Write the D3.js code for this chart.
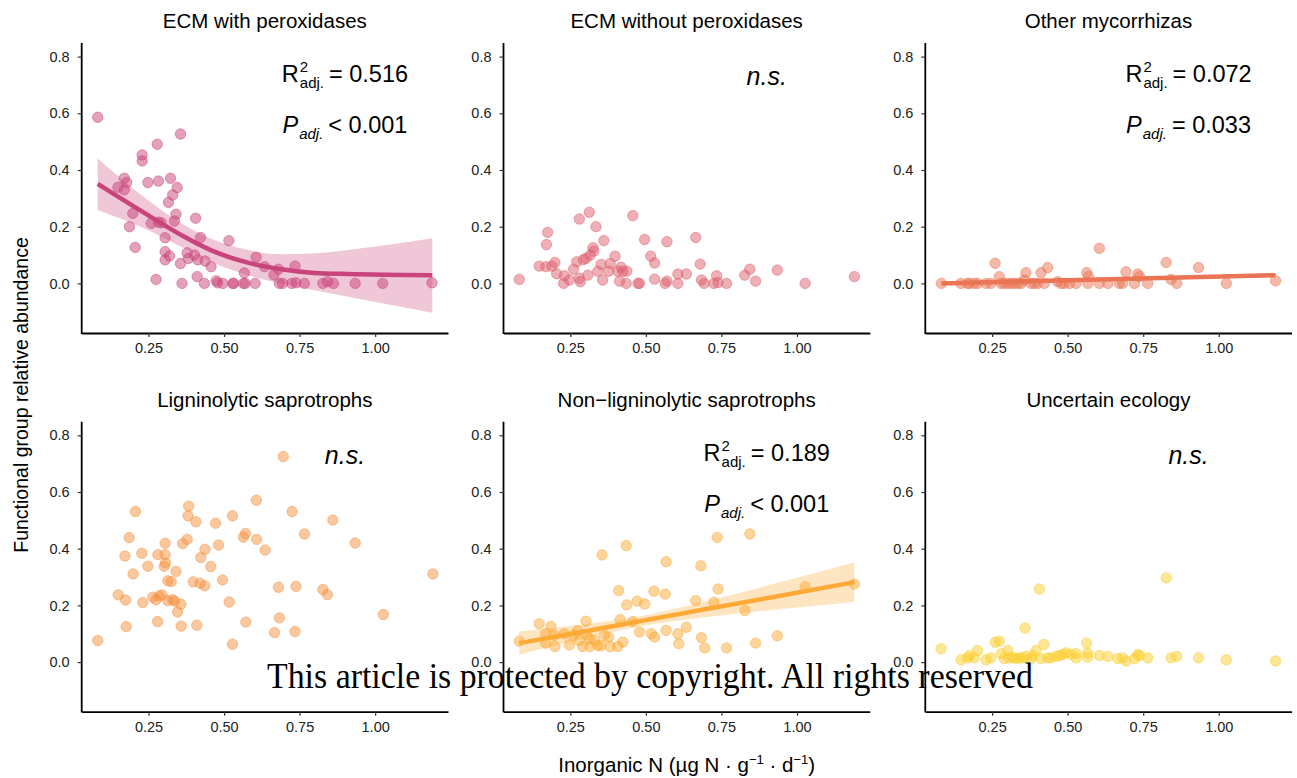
<!DOCTYPE html>
<html>
<head>
<meta charset="utf-8">
<script src="https://cdn.jsdelivr.net/npm/d3@7"></script>
<style>
  body { margin: 0; background: #fff; }
  text { font-family: "Liberation Sans", Arial, sans-serif; }
</style>
</head>
<body>
<script>
// panel names and colours
var groupNames = ["ECM with peroxidases", "ECM without peroxidases", "Other mycorrhizas",
                  "Ligninolytic saprotrophs", "Non\u2212ligninolytic saprotrophs", "Uncertain ecology"];
var groupColors = ["#c9447a", "#dd5f6e", "#ea7454", "#f5923f", "#fcaa35", "#fbcd2c"];

var xTicks = [0.25, 0.50, 0.75, 1.00];
var yTicks = [0.0, 0.2, 0.4, 0.6, 0.8];

// [inorganic N, relative abundance]
var ecmPerox = [[0.082,0.586],[0.149,0.339],[0.170,0.371],[0.178,0.356],[0.170,0.330],[0.198,0.247],[0.187,0.200],[0.206,0.127],[0.229,0.453],[0.229,0.432],[0.248,0.356],[0.259,0.212],[0.275,0.014],[0.279,0.491],[0.283,0.361],[0.292,0.214],[0.283,0.216],[0.305,0.161],[0.305,0.112],[0.305,0.083],[0.319,0.097],[0.316,0.286],[0.323,0.371],[0.330,0.312],[0.336,0.220],[0.341,0.244],[0.345,0.338],[0.356,0.527],[0.356,0.070],[0.361,0.0],[0.378,0.108],[0.382,0.088],[0.402,0.100],[0.406,0.230],[0.411,0.024],[0.413,0.083],[0.422,0.162],[0.435,0.0],[0.437,0.079],[0.457,0.059],[0.474,0.009],[0.479,0.002],[0.496,0.0],[0.516,0.151],[0.529,0.0],[0.532,0.0],[0.564,0.0],[0.567,0.037],[0.570,0.0],[0.603,0.0],[0.606,0.092],[0.634,0.059],[0.665,0.030],[0.680,0.050],[0.683,0.0],[0.694,0.0],[0.724,0.0],[0.735,0.061],[0.738,0.002],[0.766,0.0],[0.827,0.0],[0.843,0.006],[0.862,0.0],[0.934,0.0],[1.025,0.0],[1.188,0.002]];

var ecmNoPerox = [[0.081,0.014],[0.147,0.061],[0.169,0.059],[0.175,0.180],[0.171,0.137],[0.189,0.061],[0.199,0.074],[0.205,0.034],[0.230,0.027],[0.228,0.0],[0.247,0.012],[0.261,0.050],[0.271,0.076],[0.280,0.227],[0.280,0.018],[0.283,0.006],[0.293,0.084],[0.302,0.088],[0.308,0.029],[0.313,0.251],[0.316,0.100],[0.325,0.126],[0.328,0.114],[0.335,0.200],[0.341,0.043],[0.352,0.067],[0.357,0.012],[0.361,0.151],[0.377,0.043],[0.382,0.070],[0.398,0.096],[0.407,0.043],[0.413,0.008],[0.418,0.057],[0.424,0.043],[0.437,0.043],[0.435,0.0],[0.457,0.239],[0.474,0.0],[0.479,0.0],[0.496,0.155],[0.516,0.096],[0.529,0.072],[0.529,0.015],[0.564,0.0],[0.570,0.147],[0.570,0.008],[0.606,0.033],[0.606,0.0],[0.634,0.033],[0.665,0.162],[0.680,0.068],[0.684,0.012],[0.693,0.0],[0.725,0.0],[0.734,0.027],[0.739,0.003],[0.767,0.0],[0.827,0.029],[0.844,0.050],[0.863,0.008],[0.935,0.047],[1.027,0.0],[1.190,0.024]];

var otherMyc = [[0.082,0],[0.147,0],[0.169,0],[0.175,0],[0.191,0],[0.202,0],[0.230,0],[0.246,0],[0.260,0.071],[0.274,0.024],[0.280,0],[0.290,0],[0.302,0],[0.313,0],[0.324,0],[0.335,0],[0.346,0],[0.357,0.012],[0.362,0.038],[0.379,0],[0.390,0],[0.401,0],[0.412,0.038],[0.434,0.056],[0.423,0],[0.467,0.006],[0.478,0],[0.489,0],[0.506,0],[0.528,0],[0.563,0.038],[0.569,0.024],[0.567,0],[0.605,0.124],[0.605,0],[0.633,0],[0.671,0],[0.682,0],[0.693,0.041],[0.721,0],[0.732,0.033],[0.738,0.024],[0.765,0],[0.826,0.074],[0.842,0.014],[0.861,0],[0.933,0.056],[1.025,0],[1.188,0.009]];

var ligSap = [[0.082,0.076],[0.150,0.237],[0.174,0.219],[0.176,0.125],[0.172,0.374],[0.186,0.439],[0.199,0.311],[0.207,0.531],[0.228,0.384],[0.231,0.210],[0.248,0.338],[0.264,0.229],[0.275,0.220],[0.281,0.379],[0.280,0.143],[0.286,0.233],[0.295,0.237],[0.302,0.338],[0.305,0.379],[0.305,0.419],[0.306,0.350],[0.314,0.217],[0.314,0.287],[0.325,0.284],[0.330,0.220],[0.341,0.320],[0.336,0.215],[0.346,0.177],[0.357,0.204],[0.358,0.127],[0.363,0.418],[0.378,0.433],[0.381,0.516],[0.383,0.550],[0.398,0.283],[0.407,0.495],[0.410,0.130],[0.421,0.278],[0.423,0.369],[0.436,0.269],[0.437,0.398],[0.456,0.337],[0.472,0.490],[0.482,0.413],[0.495,0.290],[0.517,0.212],[0.528,0.063],[0.528,0.516],[0.564,0.441],[0.571,0.454],[0.572,0.141],[0.607,0.571],[0.608,0.433],[0.636,0.395],[0.667,0.104],[0.680,0.264],[0.683,0.156],[0.696,0.725],[0.725,0.531],[0.735,0.108],[0.738,0.267],[0.766,0.452],[0.827,0.256],[0.842,0.238],[0.860,0.501],[0.934,0.420],[1.027,0.168],[1.191,0.311]];

var nonLigSap = [[0.081,0.074],[0.147,0.135],[0.169,0.100],[0.169,0.067],[0.186,0.126],[0.197,0.094],[0.199,0.055],[0.230,0.100],[0.247,0.061],[0.261,0.094],[0.274,0.111],[0.280,0.076],[0.291,0.055],[0.302,0.144],[0.304,0.096],[0.313,0.082],[0.315,0.055],[0.330,0.076],[0.341,0.058],[0.352,0.058],[0.355,0.378],[0.363,0.094],[0.377,0.088],[0.382,0.055],[0.407,0.055],[0.410,0.252],[0.415,0.150],[0.424,0.071],[0.435,0.411],[0.437,0.202],[0.457,0.143],[0.471,0.215],[0.479,0.106],[0.496,0.205],[0.518,0.100],[0.527,0.250],[0.529,0.088],[0.564,0.240],[0.567,0.354],[0.567,0.112],[0.606,0.100],[0.609,0.065],[0.634,0.123],[0.665,0.217],[0.682,0.340],[0.684,0.086],[0.695,0.050],[0.725,0.211],[0.736,0.440],[0.739,0.258],[0.767,0.050],[0.828,0.182],[0.844,0.452],[0.863,0.067],[0.935,0.093],[1.027,0.266],[1.190,0.275]];

var uncertain = [[0.081,0.047],[0.147,0.008],[0.169,0.015],[0.175,0.023],[0.191,0.015],[0.202,0.041],[0.230,0.008],[0.246,0.015],[0.260,0.070],[0.274,0.074],[0.280,0.030],[0.290,0.012],[0.302,0.041],[0.307,0.015],[0.318,0.017],[0.329,0.012],[0.340,0.015],[0.351,0.015],[0.359,0.120],[0.362,0.020],[0.379,0.012],[0.384,0.023],[0.395,0.041],[0.406,0.258],[0.412,0.012],[0.421,0.062],[0.434,0.015],[0.445,0.015],[0.462,0.020],[0.473,0.023],[0.484,0.027],[0.495,0.033],[0.511,0.027],[0.528,0.015],[0.528,0.030],[0.563,0.067],[0.566,0.032],[0.566,0.017],[0.605,0.023],[0.633,0.020],[0.666,0.012],[0.682,0.015],[0.693,0.004],[0.721,0.012],[0.732,0.027],[0.738,0.023],[0.765,0.015],[0.826,0.297],[0.842,0.015],[0.861,0.020],[0.933,0.015],[1.025,0.008],[1.188,0.004]];

// smoother readings: [x, fit, lower, upper]
var fitEcmPerox = [[0.082,0.351,0.259,0.441],[0.248,0.241,0.188,0.294],[0.358,0.171,0.129,0.212],[0.468,0.112,0.071,0.153],[0.579,0.073,0.029,0.118],[0.689,0.050,0.000,0.103],[0.799,0.037,-0.024,0.106],[0.910,0.033,-0.047,0.118],[1.189,0.029,-0.104,0.159]];
var fitOtherMyc = [[0.082,0.000,-0.004,0.004],[0.470,0.010,0.007,0.013],[1.188,0.029,0.022,0.036]];
var fitNonLig = [[0.081,0.067,0.026,0.108],[0.300,0.109,0.084,0.134],[0.470,0.142,0.124,0.160],[0.700,0.187,0.159,0.215],[0.950,0.235,0.187,0.283],[1.190,0.282,0.212,0.352]];

// stats: [R2 adj, P operator, P value] or null for n.s.
var statEcmPerox = ["0.516", "<", "0.001"];
var statOtherMyc = ["0.072", "=", "0.033"];
var statNonLig = ["0.189", "<", "0.001"];

var panels = [
  {pts: ecmPerox, fit: fitEcmPerox, stat: statEcmPerox},
  {pts: ecmNoPerox, fit: null, stat: null},
  {pts: otherMyc, fit: fitOtherMyc, stat: statOtherMyc},
  {pts: ligSap, fit: null, stat: null},
  {pts: nonLigSap, fit: fitNonLig, stat: statNonLig},
  {pts: uncertain, fit: null, stat: null}
];

var width = 1297, height = 778;
var panelW = 366.3, panelH = 290;
var left0 = 81.7, colStep = 421.8, top0 = 43, rowStep = 378.7;

var svg = d3.select('body').append('svg')
            .attr('width', width)
            .attr('height', height);

var x = d3.scaleLinear().domain([0.029, 1.241]).range([0, panelW]);
var y = d3.scaleLinear().domain([-0.175, 0.848]).range([panelH, 0]);

var line = d3.line()
             .x(function(d){ return x(d[0]); })
             .y(function(d){ return y(d[1]); })
             .curve(d3.curveMonotoneX);
var band = d3.area()
             .x(function(d){ return x(d[0]); })
             .y0(function(d){ return y(d[2]); })
             .y1(function(d){ return y(d[3]); })
             .curve(d3.curveMonotoneX);

panels.forEach(function(p, i){
  var col = i % 3, row = Math.floor(i / 3);
  var g = svg.append('g')
             .attr('transform', 'translate(' + (left0 + col * colStep) + ',' + (top0 + row * rowStep) + ')');
  var c = groupColors[i];

  // strip title
  g.append('text')
   .attr('x', panelW / 2).attr('y', -15)
   .attr('text-anchor', 'middle')
   .style('font-size', '20.5px')
   .text(groupNames[i]);

  // axes
  var xa = g.append('g').attr('transform', 'translate(0,' + panelH + ')')
            .call(d3.axisBottom(x).tickValues(xTicks).tickFormat(d3.format('.2f')).tickSize(4).tickSizeOuter(0).tickPadding(6));
  var ya = g.append('g')
            .call(d3.axisLeft(y).tickValues(yTicks).tickFormat(d3.format('.1f')).tickSize(4).tickSizeOuter(0).tickPadding(8));
  [xa, ya].forEach(function(a){
    a.select('.domain').attr('stroke', '#000').attr('stroke-width', 1.8);
    a.selectAll('.tick line').attr('stroke', '#333').attr('stroke-width', 1.2);
    a.selectAll('.tick text').attr('fill', '#222').style('font-size', '14.5px')
     .style('font-family', '"Liberation Sans", Arial, sans-serif');
  });
  ya.select('.domain').attr('d', 'M0,0V' + (panelH + 0.9));

  // points
  g.selectAll('.pt')
   .data(p.pts)
   .enter()
   .append('circle')
     .attr('class', 'pt')
     .attr('cx', function(d){ return x(d[0]); })
     .attr('cy', function(d){ return y(d[1]); })
     .attr('r', 5.2)
     .attr('fill', c).attr('fill-opacity', 0.5)
     .attr('stroke', c).attr('stroke-opacity', 0.5).attr('stroke-width', 1);

  // smoother
  if (p.fit) {
    g.append('path').attr('d', band(p.fit)).attr('fill', c).attr('fill-opacity', 0.3);
    g.append('path').attr('d', line(p.fit)).attr('fill', 'none')
     .attr('stroke', c).attr('stroke-width', 4.5);
  }

  // annotation
  var ax = x(0.9);
  if (p.stat) {
    statLine(g, ax, y(0.71), 'R', '2', 'adj.', false, '= ' + p.stat[0]);
    statLine(g, ax, y(0.53), 'P', null, 'adj.', true, p.stat[1] + ' ' + p.stat[2]);
  } else {
    g.append('text').attr('x', ax).attr('y', y(0.70))
     .attr('text-anchor', 'middle')
     .style('font-size', '25px').style('font-style', 'italic')
     .text('n.s.');
  }
});

function statLine(g, cx, by, main, sup, sub, italic, rest) {
  var lg = g.append('g');
  var fs = italic ? 'italic' : 'normal';
  var t = lg.append('text').attr('x', 0).attr('y', by)
            .style('font-size', '23.5px').style('font-style', fs).text(main);
  var w = t.node().getComputedTextLength() + 1;
  if (sup) {
    lg.append('text').attr('x', w).attr('y', by - 10).style('font-size', '15px').text(sup);
  }
  var s = lg.append('text').attr('x', w).attr('y', by + 6)
            .style('font-size', '15px').style('font-style', fs).text(sub);
  w += s.node().getComputedTextLength() + 5;
  var r = lg.append('text').attr('x', w).attr('y', by).style('font-size', '23.5px').text(rest);
  w += r.node().getComputedTextLength();
  lg.attr('transform', 'translate(' + (cx - w / 2) + ',0)');
}

// shared axis titles
svg.append('text')
   .attr('x', left0 + colStep + panelW / 2).attr('y', 772)
   .attr('text-anchor', 'middle')
   .style('font-size', '20.5px')
   .html('Inorganic N (\u00b5g N \u00b7 g<tspan dy="-8" style="font-size:13px">\u22121</tspan><tspan dy="8"> \u00b7 d</tspan><tspan dy="-8" style="font-size:13px">\u22121</tspan><tspan dy="8">)</tspan>');

svg.append('text')
   .attr('transform', 'translate(28,395) rotate(-90)')
   .attr('text-anchor', 'middle')
   .style('font-size', '19.5px')
   .text('Functional group relative abundance');

// watermark
svg.append('text')
   .attr('x', 267).attr('y', 688)
   .attr('textLength', 766).attr('lengthAdjust', 'spacingAndGlyphs')
   .style('font-family', '"Liberation Serif", "DejaVu Serif", serif')
   .style('font-size', '35px')
   .text('This article is protected by copyright. All rights reserved');
</script>
</body>
</html>
